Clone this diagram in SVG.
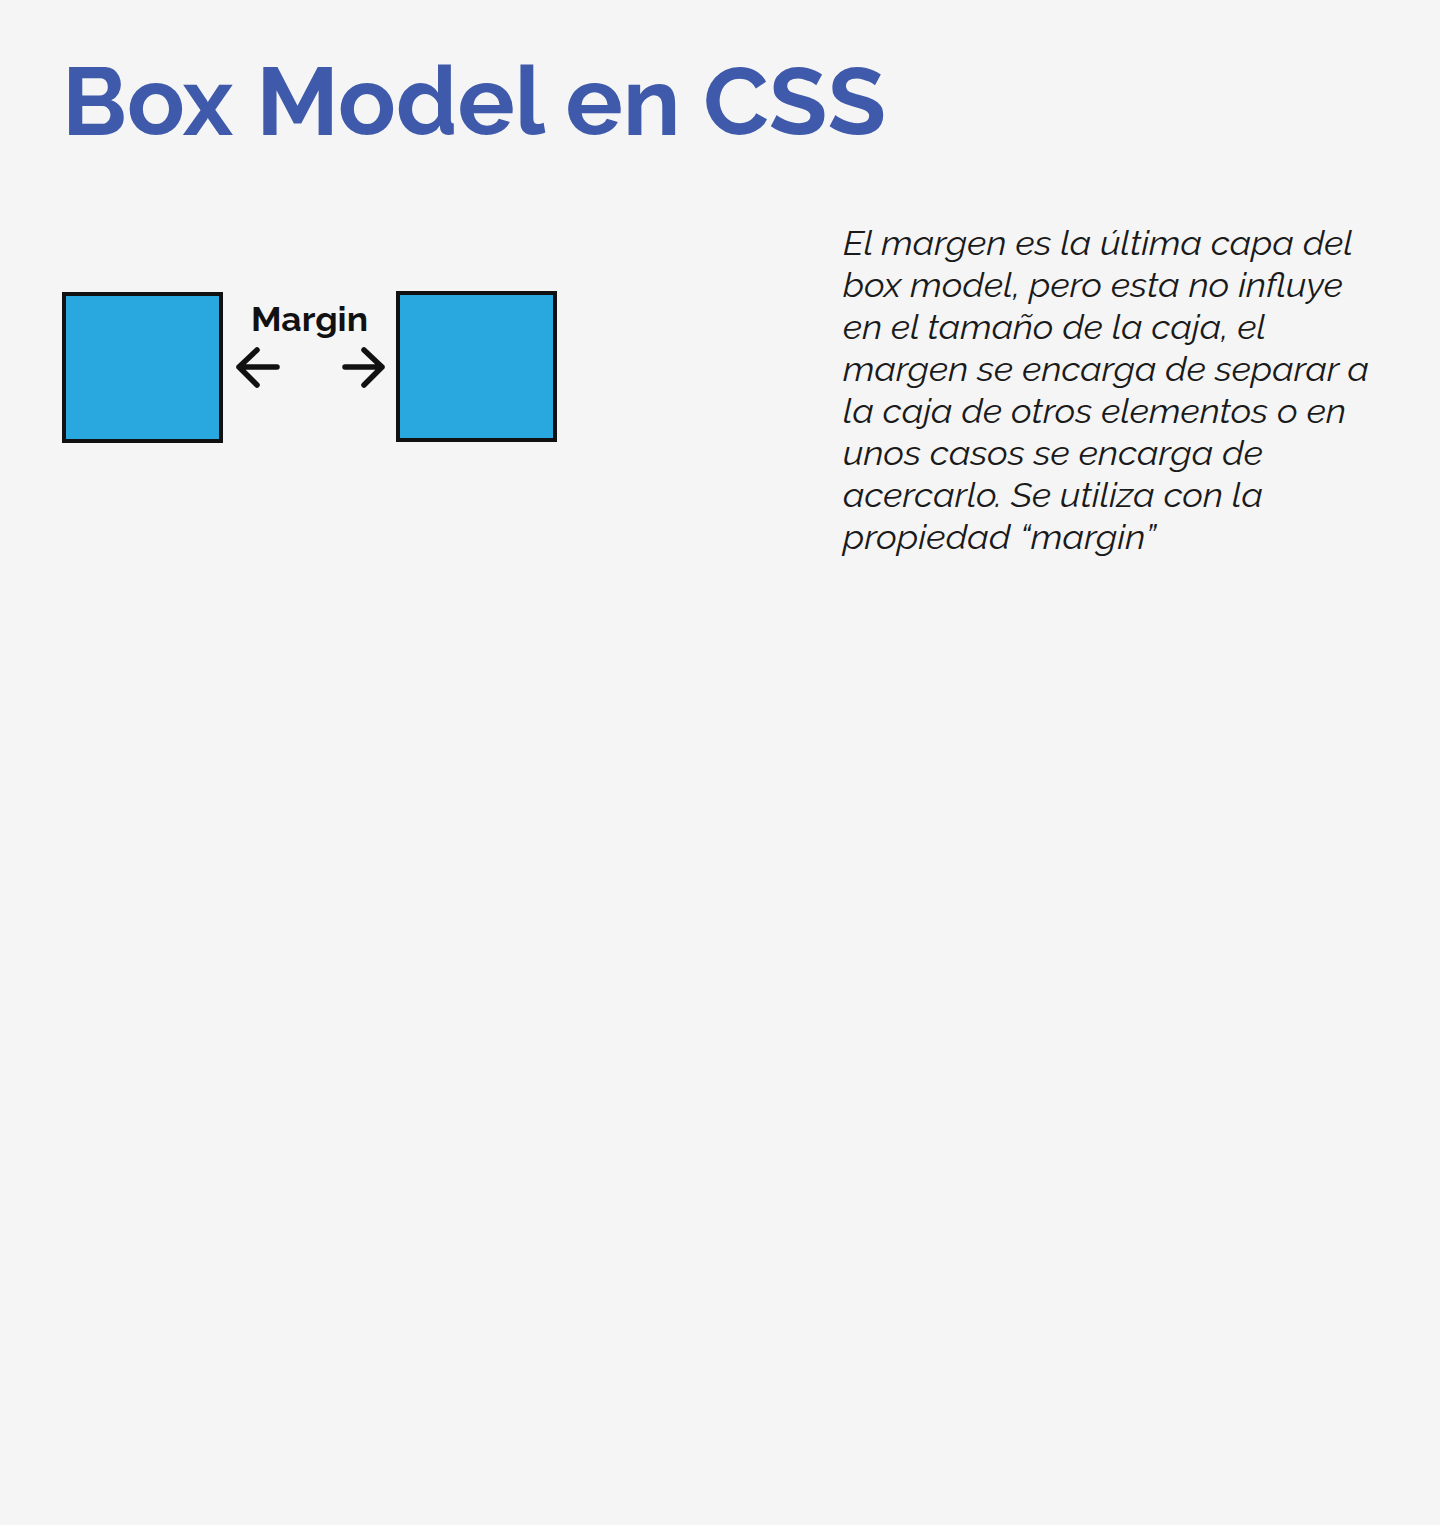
<svg xmlns="http://www.w3.org/2000/svg" width="1440" height="1525" viewBox="0 0 1440 1525">
<defs>
<style>
.bg{fill:#f5f5f5}
.title{font-family:"Raleway","Lato","Liberation Sans",sans-serif;font-weight:700;font-size:96px;fill:#3f5aab}
.box{fill:#29a8e0;stroke:#111;stroke-width:4}
.lbl{font-family:"Raleway","Lato","Liberation Sans",sans-serif;font-weight:700;font-size:34px;fill:#111}
.arr{fill:none;stroke:#111;stroke-width:5.5;stroke-linecap:round;stroke-linejoin:round}
.desc{font-family:"Raleway","Lato","Open Sans",sans-serif;font-style:italic;font-weight:400;font-size:33px;fill:#1a1a1a}
</style>
</defs>
<rect class="bg" x="0" y="0" width="1440" height="1525"/>
<text id="title" class="title" x="62" y="135" textLength="824" lengthAdjust="spacingAndGlyphs">Box Model en CSS</text>
<g id="box-left"><rect class="box" x="64" y="294" width="157" height="147"/></g>
<g id="box-right"><rect class="box" x="398" y="293" width="157" height="147"/></g>
<g id="margin-label"><text class="lbl" x="251" y="331" textLength="117" lengthAdjust="spacingAndGlyphs">Margin</text></g>
<g id="connectors">
<path class="arr" d="M277 367 H239 M257 350 L239 367 L257 385"/>
<path class="arr" d="M345 367 H382 M364 350 L382 367 L364 385"/>
</g>
<g id="description" class="desc">
<text x="843" y="255" textLength="510" lengthAdjust="spacingAndGlyphs">El margen es la última capa del</text>
<text x="843" y="297" textLength="500" lengthAdjust="spacingAndGlyphs">box model, pero esta no influye</text>
<text x="843" y="339" textLength="423" lengthAdjust="spacingAndGlyphs">en el tamaño de la caja, el</text>
<text x="843" y="381" textLength="526" lengthAdjust="spacingAndGlyphs">margen se encarga de separar a</text>
<text x="843" y="423" textLength="503" lengthAdjust="spacingAndGlyphs">la caja de otros elementos o en</text>
<text x="843" y="465" textLength="420" lengthAdjust="spacingAndGlyphs">unos casos se encarga de</text>
<text x="843" y="507" textLength="420" lengthAdjust="spacingAndGlyphs">acercarlo. Se utiliza con la</text>
<text x="843" y="549" textLength="313" lengthAdjust="spacingAndGlyphs">propiedad “margin”</text>
</g>
</svg>
